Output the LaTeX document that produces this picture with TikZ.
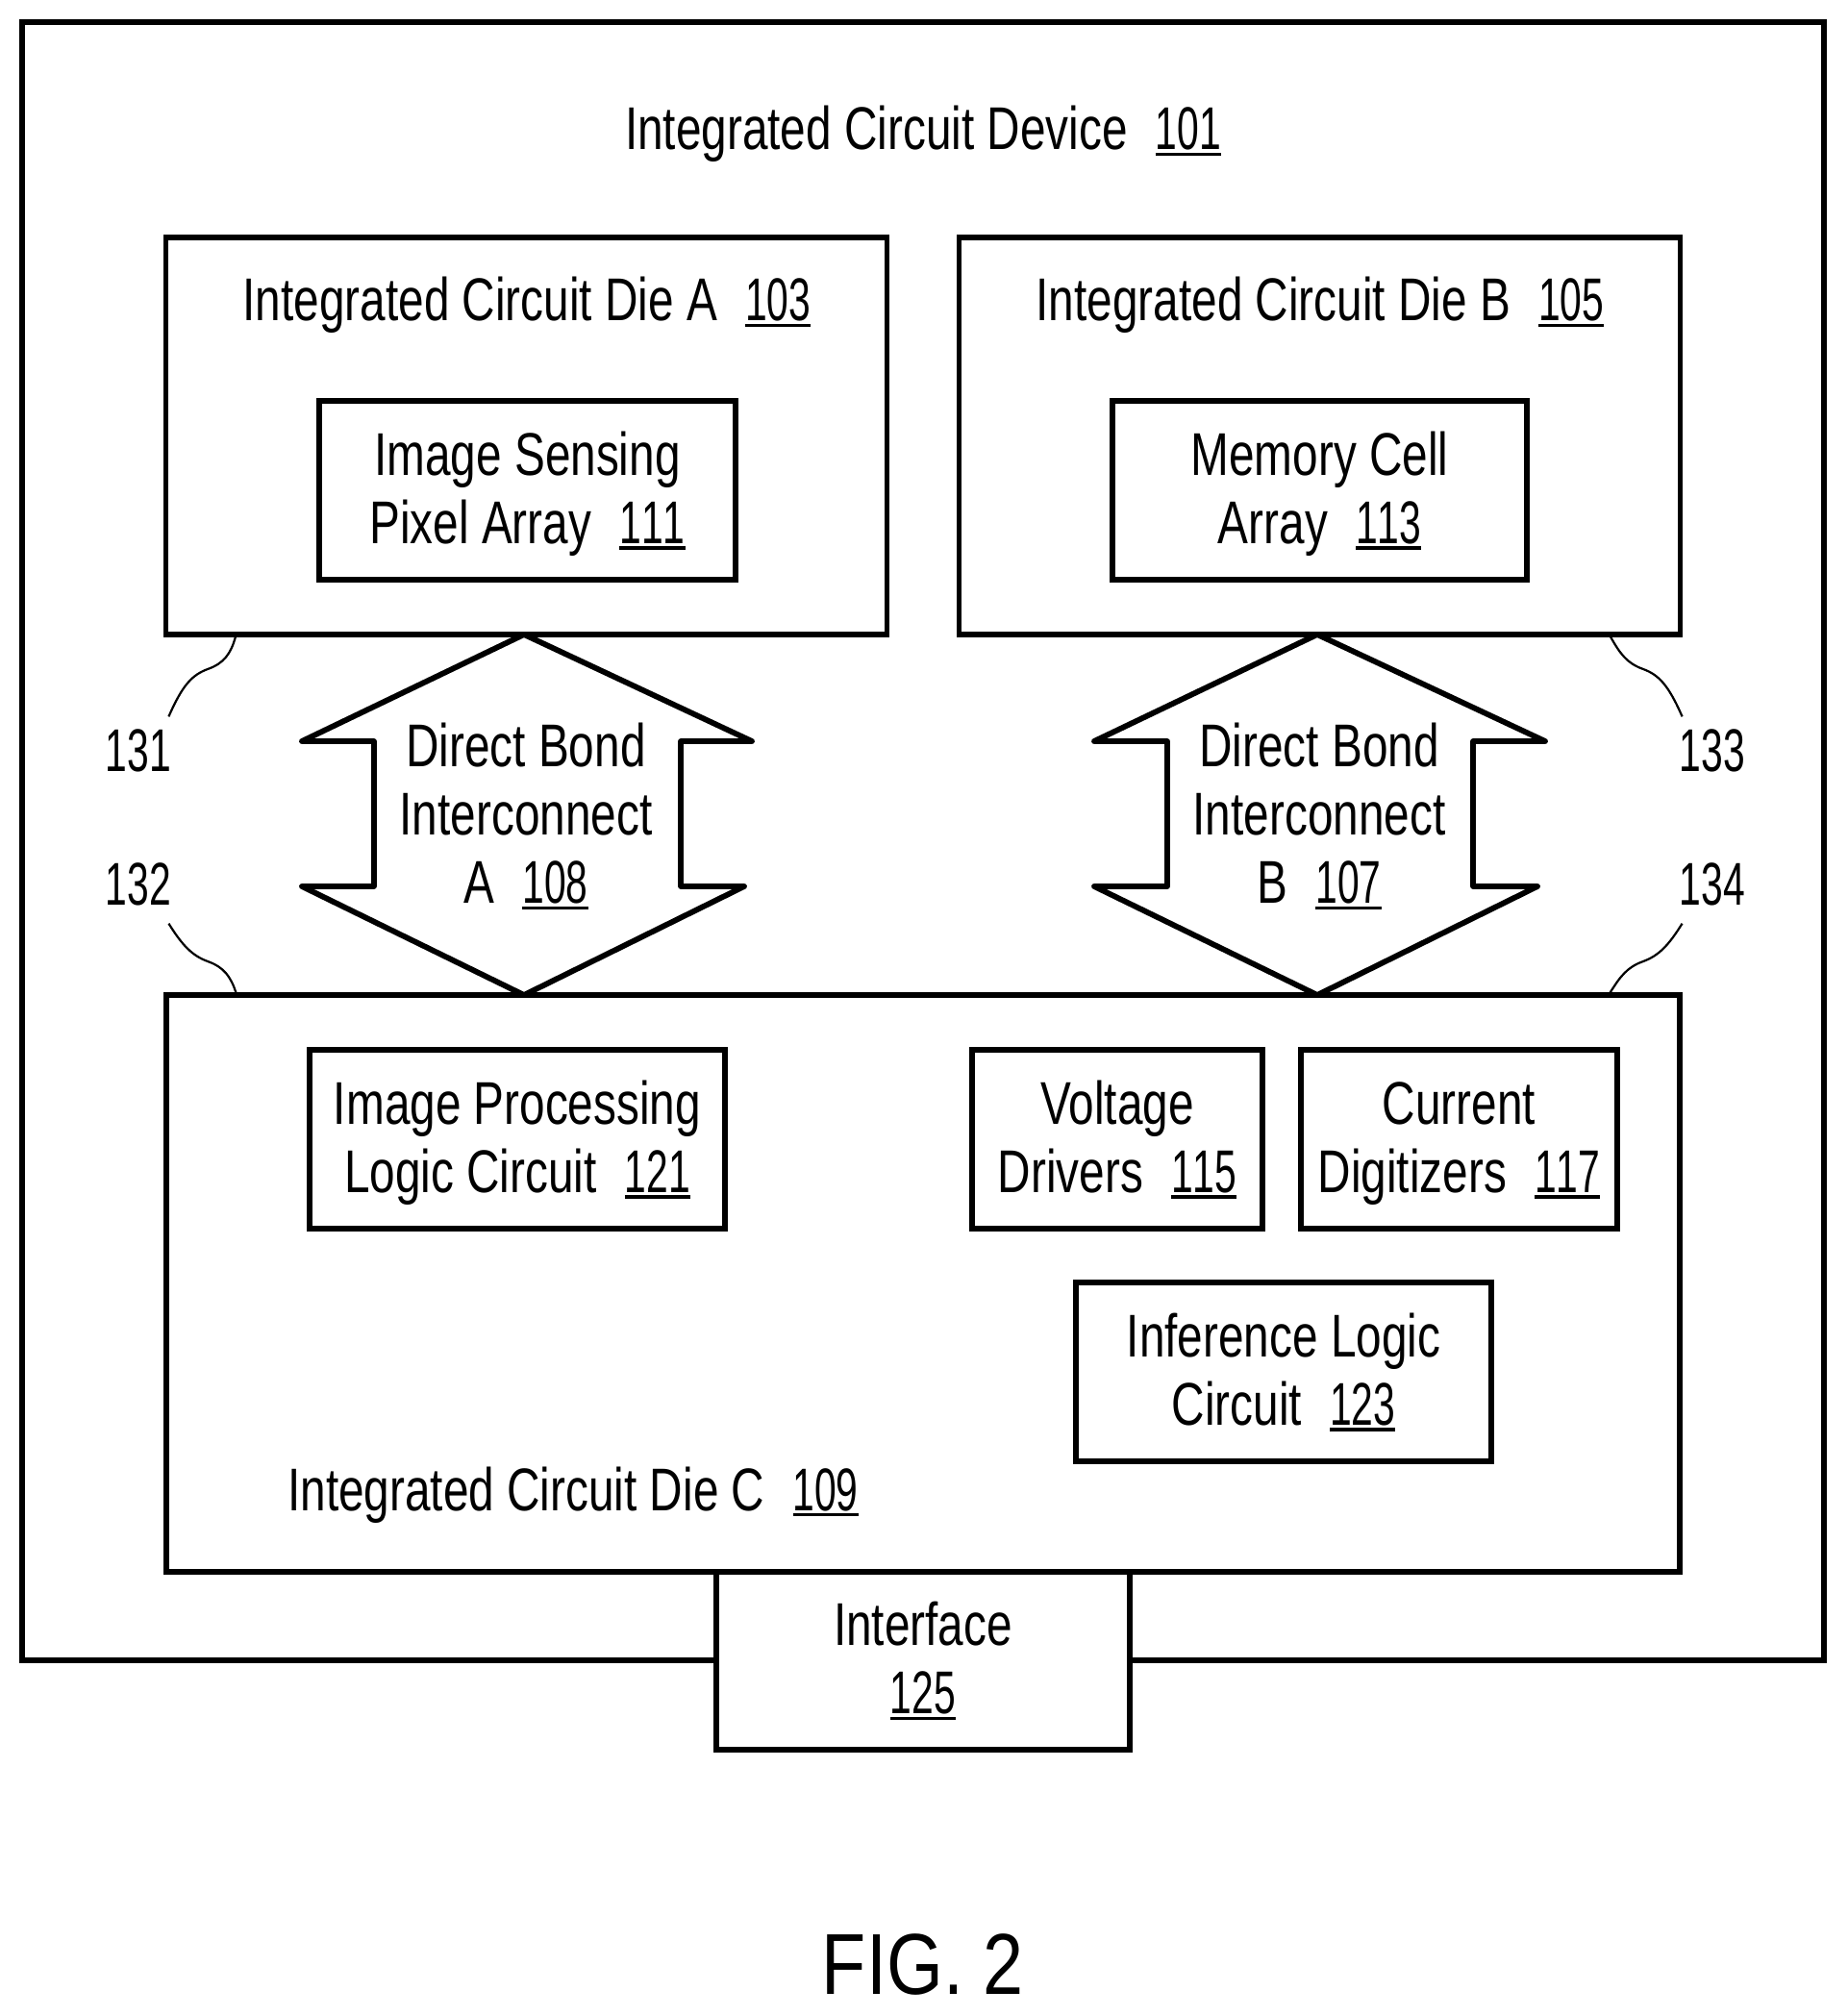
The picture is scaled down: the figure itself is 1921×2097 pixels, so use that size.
\documentclass[tikz,border=0pt]{standalone}
\usepackage{fontspec}
\setmainfont[FakeStretch=0.76]{Liberation Sans}
\newfontfamily\numfont[FakeStretch=0.65,Kerning=Off]{Liberation Sans}
\newfontfamily\capfont[FakeStretch=0.84]{Liberation Sans}
\usetikzlibrary{positioning}
\newcommand{\refbare}[1]{\setbox0\hbox{\numfont #1}\rlap{\rule[-3.2pt]{\wd0}{1.7pt}}\box0}
\newcommand{\refno}[1]{\hspace{14.6pt}\refbare{#1}}
\newcommand{\topline}{\rule{0pt}{27.9pt}}
\newcommand{\lowline}{\rule[-8pt]{0pt}{8pt}}
\tikzset{
    stacktext/.style={align=center,inner sep=0pt,font=\fontsize{31.4}{35.5}\selectfont},
    blockbox/.style={draw=black,line width=2.6pt,fill=white,stacktext},
    titletext/.style={stacktext,execute at begin node=\rule{0pt}{30pt},execute at end node=\rule[-8pt]{0pt}{8pt}},
    reflabel/.style={inner sep=0pt,font=\fontsize{31.4}{35.5}\selectfont\numfont},
    bondarrow/.style={draw=black,line width=2.9pt,line join=round,fill=white},
    leader/.style={draw=black,line width=1.1pt}
}

\begin{document}
\begin{tikzpicture}[x=0.5pt,y=-0.5pt]
    \useasboundingbox (0,0) rectangle (1921,2097);
    % outer device
    \node[blockbox,minimum width=937pt,minimum height=852pt] (device) at (960,875) {};
    \node[titletext] (devicetitle) at (960,134) {Integrated Circuit Device\refno{101}};
    % upper dies
    \node[blockbox,minimum width=375pt,minimum height=206.5pt] (dieA) at (547.5,453.5) {};
    \node[blockbox,minimum width=375pt,minimum height=206.5pt] (dieB) at (1372.5,453.5) {};
    \node[titletext] (dieAtitle) at (548,312) {Integrated Circuit Die A\refno{103}};
    \node[titletext] (dieBtitle) at (1373,312) {Integrated Circuit Die B\refno{105}};
    \node[blockbox,minimum width=216.5pt,minimum height=93pt] (pixel) at (548.5,510) {\topline Image Sensing\\Pixel Array\refno{111}\lowline};
    \node[blockbox,minimum width=215.5pt,minimum height=93pt] (memory) at (1372.5,510) {\topline Memory Cell\\Array\refno{113}\lowline};
    % lower die
    \node[blockbox,minimum width=787pt,minimum height=300pt] (dieC) at (960,1335) {};
    \node[titletext] (dieCtitle) at (596,1549) {Integrated Circuit Die C\refno{109}};
    \node[blockbox,minimum width=216pt,minimum height=93pt] (imgproc) at (538,1185) {\topline Image Processing\\Logic Circuit\refno{121}\lowline};
    \node[blockbox,minimum width=151pt,minimum height=93pt] (voltage) at (1162,1185) {\topline Voltage\\Drivers\refno{115}\lowline};
    \node[blockbox,minimum width=164.5pt,minimum height=93pt] (current) at (1517.5,1185) {\topline Current\\Digitizers\refno{117}\lowline};
    \node[blockbox,minimum width=216pt,minimum height=93pt] (inference) at (1335,1427) {\topline Inference Logic\\Circuit\refno{123}\lowline};
    \node[blockbox,minimum width=215pt,minimum height=92.5pt] (interface) at (960,1727.5) {\topline Interface\\\refbare{125}\lowline};
    % bond arrows
    \draw[bondarrow] (545,660) -- (782,771) -- (708,771) -- (708,922) -- (774,922)
        -- (545,1035) -- (314,922) -- (389,922) -- (389,771) -- (314,771) -- cycle;
    \draw[bondarrow] (1370,660) -- (1607,771) -- (1532,771) -- (1532,922) -- (1599,922)
        -- (1370,1035) -- (1138,922) -- (1214,922) -- (1214,771) -- (1138,771) -- cycle;
    \node[stacktext] (bondA) at (547,849) {\topline Direct Bond\\Interconnect\\A\refno{108}\lowline};
    \node[stacktext] (bondB) at (1372,849) {\topline Direct Bond\\Interconnect\\B\refno{107}\lowline};
    % leaders
    \node[reflabel] (lab131) at (144,781) {131};
    \node[reflabel] (lab132) at (144,920) {132};
    \node[reflabel] (lab133) at (1781,781) {133};
    \node[reflabel] (lab134) at (1781,920) {134};
    \draw[leader] ([xshift=37.5pt]dieA.south west) .. controls (240,680) and (233,690) .. (216,696)
        .. controls (200,702) and (190,712) .. ([xshift=-1.5pt,yshift=6.5pt]lab131.north east);
    \draw[leader] ([xshift=37.5pt]dieC.north west) .. controls (240,1016) and (233,1006) .. (216,1000)
        .. controls (200,994) and (190,984) .. ([xshift=-1.5pt,yshift=-9pt]lab132.south east);
    \draw[leader] ([xshift=-37.5pt]dieB.south east) .. controls (1685,680) and (1692,690) .. (1709,696)
        .. controls (1725,702) and (1735,712) .. ([xshift=1.5pt,yshift=6.5pt]lab133.north west);
    \draw[leader] ([xshift=-37.5pt]dieC.north east) .. controls (1685,1016) and (1692,1006) .. (1709,1000)
        .. controls (1725,994) and (1735,984) .. ([xshift=1.5pt,yshift=-9pt]lab134.south west);
    % caption
    \node[inner sep=0pt,font=\fontsize{45}{50}\selectfont\capfont] (caption) at (960,2043) {FIG. 2};
\end{tikzpicture}
\end{document}
